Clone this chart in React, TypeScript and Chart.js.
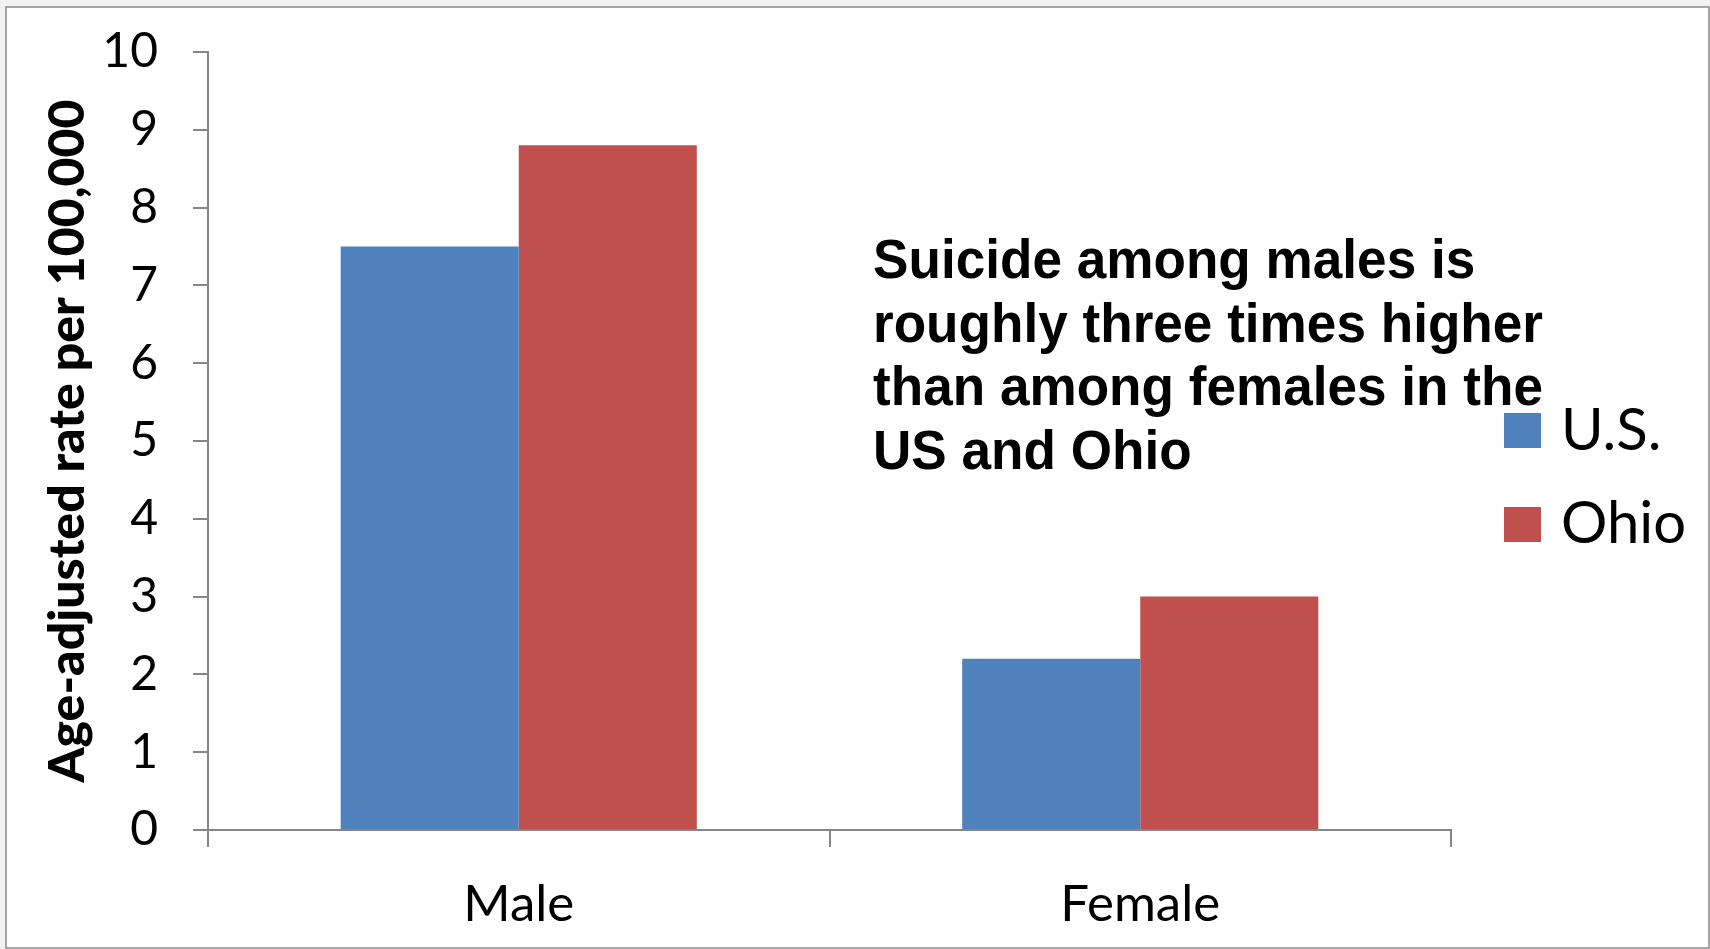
import React, { useEffect, useRef } from "react";
import { Chart, registerables } from "chart.js";

Chart.register(...registerables);

// ---- data ----
const categories = ["Male", "Female"];
const seriesNames = ["U.S.", "Ohio"];
const usValues = [7.5, 2.2];
const ohioValues = [8.8, 3.0];
const seriesColors = ["#4F81BD", "#C0504D"];
const yMin = 0;
const yMax = 10;
const yStep = 1;
const yTitle = "Age-adjusted rate per 100,000";
const noteLines = [
  "Suicide among males is",
  "roughly three times higher",
  "than among females in the",
  "US and Ohio",
];

const AXIS_COLOR = "#868686";
const LABEL_FONT = "Lato, Calibri, 'Open Sans', sans-serif";

const framePlugin = {
  id: "frame",
  beforeDraw(chart: any) {
    const ctx = chart.ctx;
    ctx.save();
    ctx.fillStyle = "#f2f2f2";
    ctx.fillRect(0, 0, chart.width, chart.height);
    ctx.fillStyle = "#ffffff";
    ctx.fillRect(6, 7, 1703, 941);
    ctx.strokeStyle = "#8a8a8a";
    ctx.lineWidth = 1.5;
    ctx.strokeRect(6, 7, 1703, 941);
    ctx.restore();
  },
};

const notePlugin = {
  id: "note",
  afterDraw(chart: any) {
    const ctx = chart.ctx;
    ctx.save();
    ctx.font = "bold 56px 'Liberation Sans', Arial, sans-serif";
    ctx.fillStyle = "#000000";
    ctx.textBaseline = "alphabetic";
    ctx.textAlign = "left";
    const refW = ctx.measureText(noteLines[1]).width;
    const sx = 670 / refW;
    const x0 = 873;
    const baselines = [278, 342, 405, 469];
    noteLines.forEach((line, i) => {
      ctx.save();
      ctx.translate(x0, baselines[i]);
      ctx.scale(sx, 1);
      ctx.fillText(line, 0, 0);
      ctx.restore();
    });
    ctx.restore();
  },
};

const legendPlugin = {
  id: "customLegend",
  afterDraw(chart: any) {
    const ctx = chart.ctx;
    ctx.save();
    ctx.font = `58px ${LABEL_FONT}`;
    ctx.textBaseline = "alphabetic";
    ctx.textAlign = "left";
    const tops = [413, 507];
    const baselines = [450, 543];
    chart.data.datasets.forEach((ds: any, i: number) => {
      ctx.fillStyle = ds.backgroundColor;
      ctx.fillRect(1504, tops[i], 37, 35);
      ctx.fillStyle = "#000000";
      ctx.fillText(ds.label, 1561, baselines[i]);
    });
    ctx.restore();
  },
};

export default function App() {
  const canvasRef = useRef<HTMLCanvasElement | null>(null);

  useEffect(() => {
    if (!canvasRef.current) return;
    const chart = new Chart(canvasRef.current, {
      type: "bar",
      data: {
        labels: categories,
        datasets: [
          {
            label: seriesNames[0],
            data: usValues,
            backgroundColor: seriesColors[0],
            borderWidth: 0,
          },
          {
            label: seriesNames[1],
            data: ohioValues,
            backgroundColor: seriesColors[1],
            borderWidth: 0,
          },
        ],
      },
      options: {
        responsive: false,
        animation: false,
        devicePixelRatio: 1,
        categoryPercentage: 0.573,
        barPercentage: 1,
        layout: { padding: { top: 52, right: 259, bottom: 0, left: 0 } },
        plugins: {
          legend: { display: false },
          title: { display: false },
          tooltip: { enabled: false },
        },
        scales: {
          x: {
            afterFit(scale: any) {
              scale.height = 119;
            },
            grid: {
              offset: true,
              drawOnChartArea: false,
              drawTicks: true,
              tickLength: 17,
              color: AXIS_COLOR,
              lineWidth: 2,
            },
            border: { display: true, color: AXIS_COLOR, width: 2 },
            ticks: {
              color: "#000000",
              font: { family: LABEL_FONT, size: 51 },
              padding: 27,
              maxRotation: 0,
            },
          },
          y: {
            min: yMin,
            max: yMax,
            afterFit(scale: any) {
              scale.width = 208;
              scale.paddingTop = 0;
              scale.paddingBottom = 0;
            },
            grid: {
              drawOnChartArea: false,
              drawTicks: true,
              tickLength: 15,
              color: AXIS_COLOR,
              lineWidth: 2,
            },
            border: { display: true, color: AXIS_COLOR, width: 2 },
            ticks: {
              stepSize: yStep,
              color: "#000000",
              font: { family: LABEL_FONT, size: 48 },
              padding: 35,
            },
            title: {
              display: true,
              text: yTitle,
              color: "#000000",
              font: { family: LABEL_FONT, size: 50, weight: "900" },
              padding: { top: 38, bottom: 0 },
            },
          },
        },
      },
      plugins: [framePlugin, notePlugin, legendPlugin],
    });
    return () => chart.destroy();
  }, []);

  return (
    <div style={{ position: "absolute", left: 0, top: 0, width: 1710, height: 949 }}>
      <canvas ref={canvasRef} width={1710} height={949} style={{ display: "block" }} />
    </div>
  );
}
